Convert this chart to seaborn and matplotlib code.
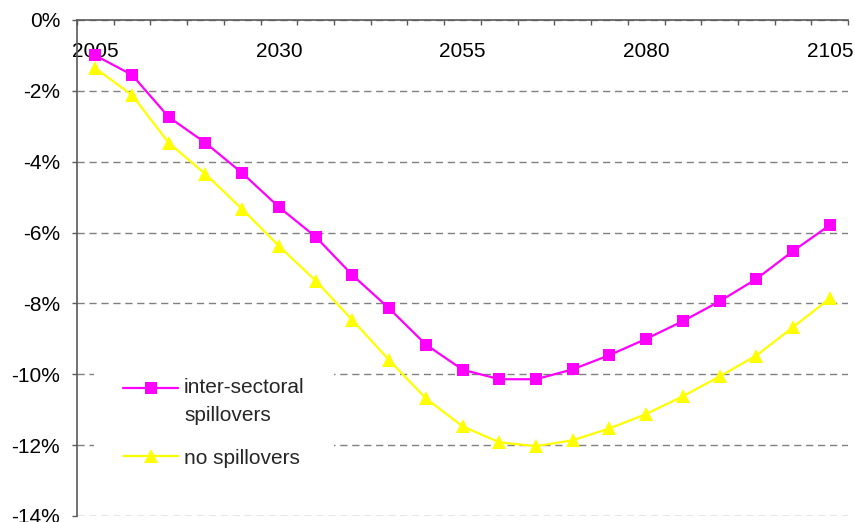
import numpy as np
import pandas as pd
import matplotlib
matplotlib.use("Agg")
import matplotlib.pyplot as plt
from matplotlib.ticker import FixedLocator, FuncFormatter, NullFormatter
from matplotlib.legend_handler import HandlerLine2D
import seaborn as sns

# Period (5-year steps) and percentage change for each scenario
years = [2005, 2010, 2015, 2020, 2025, 2030, 2035, 2040, 2045, 2050, 2055,
         2060, 2065, 2070, 2075, 2080, 2085, 2090, 2095, 2100, 2105]
spillovers = [-1.00, -1.55, -2.74, -3.47, -4.32, -5.28, -6.12, -7.20, -8.14, -9.16, -9.87,
              -10.14, -10.14, -9.86, -9.46, -9.00, -8.50, -7.94, -7.31, -6.52, -5.79]
no_spillovers = [-1.36, -2.12, -3.47, -4.35, -5.34, -6.38, -7.36, -8.47, -9.60, -10.68, -11.47,
                 -11.92, -12.03, -11.86, -11.53, -11.12, -10.62, -10.06, -9.47, -8.67, -7.86]
series_names = ["inter-sectoral\nspillovers", "no spillovers"]
series_colors = ["#FF00FF", "#FFFF00"]
year_labels = [2005, 2030, 2055, 2080, 2105]
pct_ticks = [0, -2, -4, -6, -8, -10, -12, -14]

df = pd.concat([
    pd.DataFrame({"year": years, "change": spillovers, "series": series_names[0]}),
    pd.DataFrame({"year": years, "change": no_spillovers, "series": series_names[1]}),
], ignore_index=True)

sns.set_style("white")
plt.rcParams["font.family"] = ["Liberation Sans", "DejaVu Sans"]
FS = 15

fig = plt.figure(figsize=(8.55, 5.22), dpi=100)
ax = fig.add_axes([0.090, 0.0115, 0.902, 0.9502])

sns.lineplot(data=df, x="year", y="change", hue="series", style="series",
             hue_order=series_names, style_order=series_names,
             palette=series_colors, markers=["s", "^"], dashes=False,
             linewidth=1.6, markeredgewidth=0, legend=False, ax=ax)
data_lines = ax.lines[:2]
data_lines[0].set_markersize(8.6)
data_lines[1].set_markersize(9.8)

# Axes limits: one category slot per 5-year period
ax.set_xlim(2002.5, 2107.5)
ax.set_ylim(-14, 0)

# Spines: category axis crosses at 0%, value axis on the left
spine_col = "#595959"
ax.spines["bottom"].set_position(("data", 0))
ax.spines["bottom"].set_color(spine_col)
ax.spines["bottom"].set_linewidth(1.2)
ax.spines["left"].set_color(spine_col)
ax.spines["left"].set_linewidth(1.2)
ax.spines["top"].set_visible(False)
ax.spines["right"].set_visible(False)

# x axis: tick marks between categories, labels every 5th category
ax.xaxis.set_major_locator(FixedLocator(np.arange(2002.5, 2108, 5)))
ax.xaxis.set_major_formatter(NullFormatter())
ax.xaxis.set_minor_locator(FixedLocator(year_labels))
ax.xaxis.set_minor_formatter(FuncFormatter(lambda v, p: f"{int(round(v))}"))
ax.tick_params(axis="x", which="major", direction="out", length=3.6, width=1,
               color=spine_col, bottom=True)
ax.tick_params(axis="x", which="minor", length=0, pad=16, labelsize=FS,
               labelcolor="black", bottom=True)

# y axis: percentages
ax.yaxis.set_major_locator(FixedLocator(pct_ticks))
ax.yaxis.set_major_formatter(FuncFormatter(lambda v, p: f"{int(round(v))}%"))
ax.tick_params(axis="y", which="major", direction="out", length=3.6, width=1,
               color=spine_col, pad=8.5, labelsize=FS, labelcolor="black", left=True)

ax.yaxis.grid(True, color="#808080", linewidth=1.0, linestyle=(0, (5.2, 3.4)))
ax.xaxis.grid(False)
ax.set_xlabel("")
ax.set_ylabel("")


class TopLineHandler(HandlerLine2D):
    """Aligns the legend key with the first line of a multi-line label."""

    def __init__(self, shift=0.0, **kw):
        super().__init__(**kw)
        self.shift = shift

    def create_artists(self, legend, orig_handle, xdescent, ydescent, width,
                       height, fontsize, trans):
        arts = super().create_artists(legend, orig_handle, xdescent, ydescent,
                                      width, height, fontsize, trans)
        for a in arts:
            a.set_ydata(np.asarray(a.get_ydata(), dtype=float) + self.shift)
        return arts


leg = ax.legend(data_lines, series_names, loc="upper left",
                bbox_to_anchor=(0.022, 0.337), borderaxespad=0,
                frameon=True, fancybox=False, framealpha=1,
                facecolor="white", edgecolor="none",
                fontsize=FS, handlelength=2.64, handletextpad=0.29,
                labelspacing=1.14, borderpad=1.4,
                handler_map={data_lines[0]: TopLineHandler(shift=10.2),
                             data_lines[1]: TopLineHandler(shift=0.0)})
for t in leg.get_texts():
    t.set_linespacing(1.6)

fig.savefig("out.png", dpi=100)
